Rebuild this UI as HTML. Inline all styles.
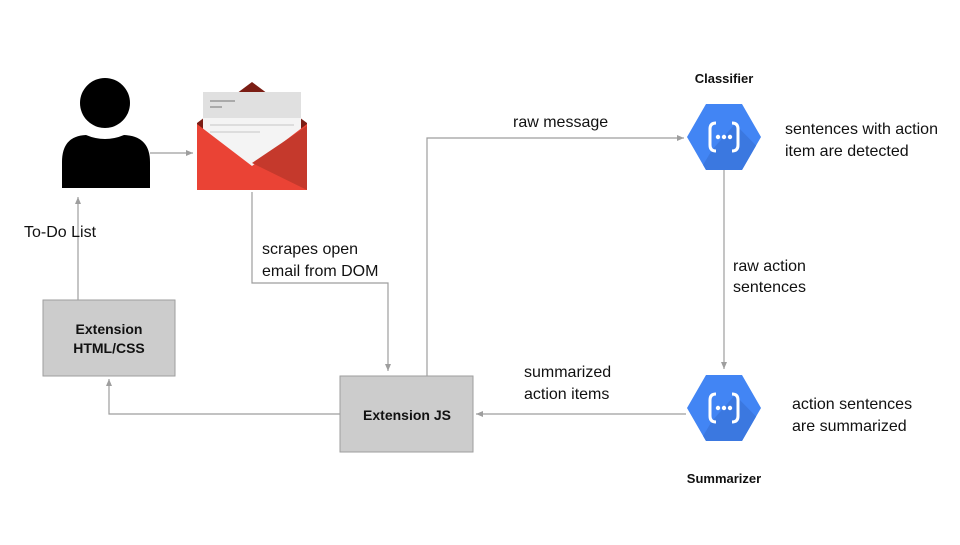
<!DOCTYPE html>
<html><head><style>
body{margin:0;background:#fff;}
svg text{font-family:"Liberation Sans",sans-serif;}
</style></head><body>
<svg width="960" height="540" viewBox="0 0 960 540" xmlns="http://www.w3.org/2000/svg">
<defs>
<marker id="a" markerWidth="8" markerHeight="8" refX="7" refY="4" orient="auto" markerUnits="userSpaceOnUse">
<path d="M0,1 L7,4 L0,7 z" fill="#9e9e9e"/></marker>
<clipPath id="hc"><polygon points="706,104 742,104 761,137 742,170 706,170 687,137"/></clipPath>
</defs>
<rect width="960" height="540" fill="#fff"/>
<g fill="none" stroke="#9e9e9e" stroke-width="1.2">
<path d="M150,153 H193" marker-end="url(#a)"/>
<path d="M252,192 V283 H388 V371" marker-end="url(#a)"/>
<path d="M427,376 V138 H684" marker-end="url(#a)"/>
<path d="M724,170 V369" marker-end="url(#a)"/>
<path d="M686,414 H476" marker-end="url(#a)"/>
<path d="M340,414 H109 V379" marker-end="url(#a)"/>
<path d="M78,300 V197" marker-end="url(#a)"/>
</g>
<!-- person -->
<circle cx="105" cy="103" r="25" fill="#000"/>
<path d="M62,188 V162 Q62,136 86,135 Q105,143 124,135 Q150,136 150,162 V188 Z" fill="#000"/>
<!-- envelope -->
<path d="M197,123 L252,82 L307,123 V188 H197 Z" fill="#7b1d14"/>
<rect x="203" y="92" width="98" height="50" fill="#e0e0e0"/>
<rect x="203" y="118" width="98" height="50" fill="#f4f4f4"/>
<rect x="210" y="100" width="25" height="2" fill="#aaa"/>
<rect x="210" y="106" width="12" height="2" fill="#aaa"/>
<rect x="210" y="124" width="84" height="2" fill="#ddd"/>
<rect x="210" y="131" width="50" height="2" fill="#ddd"/>
<path d="M197,124 L252,166 L307,124 V190 H197 Z" fill="#ea4335"/>
<path d="M307,126 V190 L252,163 Z" fill="#c5392c"/>
<!-- hexagons -->
<g id="h">
<polygon points="706,104 742,104 761,137 742,170 706,170 687,137" fill="#4285f4"/>
<polygon points="735,124 780,170 700,170 712,150" fill="#3b78e0" clip-path="url(#hc)"/>
<path d="M716,123 q-6,0 -6,6 v16 q0,6 6,6" fill="none" stroke="#fff" stroke-width="3"/>
<path d="M732,123 q6,0 6,6 v16 q0,6 -6,6" fill="none" stroke="#fff" stroke-width="3"/>
<circle cx="718" cy="137" r="2.2" fill="#fff"/><circle cx="724" cy="137" r="2.2" fill="#fff"/><circle cx="730" cy="137" r="2.2" fill="#fff"/>
</g>
<use href="#h" transform="translate(0,271)"/>
<!-- boxes -->
<rect x="43" y="300" width="132" height="76" fill="#cccccc" stroke="#9e9e9e"/>
<rect x="340" y="376" width="133" height="76" fill="#cccccc" stroke="#9e9e9e"/>
<g font-weight="bold" font-size="14" text-anchor="middle" fill="#111">
<text x="109" y="334">Extension</text>
<text x="109" y="353">HTML/CSS</text>
<text x="407" y="420">Extension JS</text>
<text x="724" y="83" font-size="13">Classifier</text>
<text x="724" y="483" font-size="13">Summarizer</text>
</g>
<g font-size="16" fill="#111">
<text x="24" y="237">To-Do List</text>
<text x="262" y="254">scrapes open</text>
<text x="262" y="276">email from DOM</text>
<text x="513" y="127">raw message</text>
<text x="785" y="134">sentences with action</text>
<text x="785" y="156">item are detected</text>
<text x="733" y="271">raw action</text>
<text x="733" y="292">sentences</text>
<text x="524" y="377">summarized</text>
<text x="524" y="399">action items</text>
<text x="792" y="409">action sentences</text>
<text x="792" y="431">are summarized</text>
</g>
</svg>
</body></html>
